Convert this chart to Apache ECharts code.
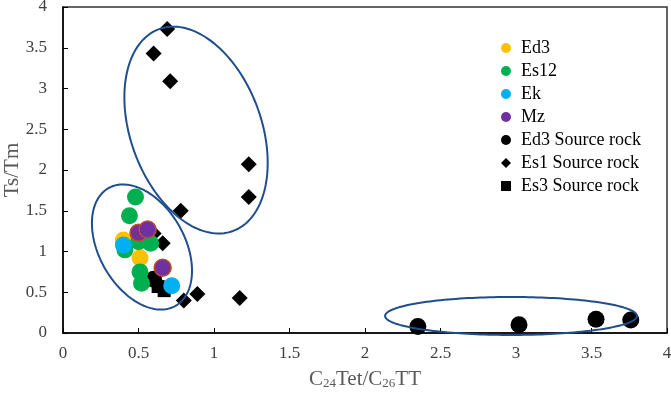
<!DOCTYPE html>
<html>
<head>
<meta charset="utf-8">
<script src="https://cdn.jsdelivr.net/npm/echarts@6/dist/echarts.min.js"></script>
<style>html,body{margin:0;padding:0;background:#fff}#c{width:671px;height:395px}</style>
</head>
<body>
<div id="c"></div>
<script>
// ---- data (x = C24Tet/C26TT, y = Ts/Tm) ----
const xTicks = ['0','0.5','1','1.5','2','2.5','3','3.5','4'];
const yTicks = ['0','0.5','1','1.5','2','2.5','3','3.5','4'];
const seriesNames = ['Ed3','Es12','Ek','Mz','Ed3 Source rock','Es1 Source rock','Es3 Source rock'];
const ed3 = [[0.40,1.14],[0.51,0.92]];
const es12 = [[0.48,1.67],[0.44,1.44],[0.41,1.02],[0.50,1.12],[0.58,1.10],[0.51,0.75],[0.52,0.61]];
const ek = [[0.40,1.08],[0.72,0.58]];
const mz = [[0.50,1.23],[0.56,1.27],[0.66,0.80]];
const ed3Source = [[2.35,0.08],[3.02,0.10],[3.53,0.17],[3.76,0.16],[0.60,0.66]];
const es1Source = [[0.69,3.73],[0.60,3.43],[0.71,3.09],[1.23,2.07],[1.23,1.67],[0.78,1.50],[0.66,1.10],[0.60,1.22],[0.80,0.40],[0.89,0.48],[1.17,0.43]];
const es3Source = [[0.63,0.57],[0.67,0.52]];
// ellipses: centre x, centre y, semi-diameter u (dx,dy), semi-diameter v (dx,dy) in data units
const ellipses = [
  [0.881, 2.49, 0.244, -1.239, -0.407, -0.274],
  [0.523, 1.055, 0.222, -0.722, -0.246, -0.260],
  [2.967, 0.209, 0.834, 0, 0, 0.233]
];

const chart = echarts.init(document.getElementById('c'));
const serif = '"Liberation Serif","Times New Roman",serif';
const colors = ['#FFC000','#00B050','#00B0F0','#7030A0','#000000','#000000','#000000'];

function scatter(name, data, symbol, size, z, extra) {
  return Object.assign({
    name, type:'scatter', data, symbol, symbolSize:size, z,
    itemStyle:{color:colors[seriesNames.indexOf(name)], opacity:1},
    emphasis:{disabled:true}
  }, extra||{});
}

chart.setOption({
  animation:false,
  grid:{left:63,right:4,top:7,bottom:62,containLabel:false,outerBoundsMode:'none',show:true,borderColor:'#333',borderWidth:1.5},
  xAxis:{type:'value',min:0,max:4,interval:0.5,
    axisLine:{lineStyle:{color:'#000',width:1.5}},
    axisTick:{inside:true,length:5,lineStyle:{color:'#000'}},
    splitLine:{show:false},
    axisLabel:{fontFamily:serif,fontSize:17,color:'#404040',margin:12,
      formatter:v=>xTicks[Math.round(v*2)]},
    name:'{n|C}{s|24}{n|Tet/C}{s|26}{n|TT}',nameLocation:'middle',nameGap:36,nameMoveOverlap:false,
    nameTextStyle:{rich:{
      n:{fontFamily:serif,fontSize:21,color:'#595959'},
      s:{fontFamily:serif,fontSize:13,color:'#595959',verticalAlign:'bottom',padding:[8,0,0,0]}
    }}
  },
  yAxis:{type:'value',min:0,max:4,interval:0.5,
    axisLine:{lineStyle:{color:'#000',width:1.5}},
    axisTick:{inside:true,length:5,lineStyle:{color:'#000'}},
    splitLine:{show:false},
    axisLabel:{fontFamily:serif,fontSize:17,color:'#404040',margin:16,
      formatter:v=>yTicks[Math.round(v*2)]},
    name:'Ts/Tm',nameLocation:'middle',nameGap:40,nameMoveOverlap:false,
    nameTextStyle:{fontFamily:serif,fontSize:21,color:'#595959'}
  },
  legend:{orient:'vertical',left:496,top:34,itemWidth:10,itemHeight:10,itemGap:5,
    textStyle:{fontFamily:serif,fontSize:18,color:'#000',lineHeight:18,padding:[0,0,0,5]},
    data:seriesNames.map(n=>({name:n,itemStyle:{borderWidth:0}}))
  },
  series:[
    {type:'custom',name:'ellipses',z:5,silent:true,data:ellipses,
     encode:{x:0,y:1},
     renderItem:function(params,api){
       const cx=api.value(0),cy=api.value(1),ux=api.value(2),uy=api.value(3),vx=api.value(4),vy=api.value(5);
       const pts=[];
       for(let i=0;i<=180;i++){
         const t=i/180*Math.PI*2;
         pts.push(api.coord([cx+ux*Math.cos(t)+vx*Math.sin(t), cy+uy*Math.cos(t)+vy*Math.sin(t)]));
       }
       return {type:'polyline',shape:{points:pts},style:{stroke:'#1F4E8C',lineWidth:2,fill:null}};
     }
    },
    scatter('Ed3 Source rock', ed3Source, 'circle', 17, 2),
    scatter('Es1 Source rock', es1Source, 'diamond', 16, 2),
    scatter('Es3 Source rock', es3Source, 'rect', 13, 2),
    scatter('Ed3', ed3, 'circle', 17, 3),
    scatter('Es12', es12, 'circle', 17, 3.1),
    scatter('Ek', ek, 'circle', 17, 3.2),
    scatter('Mz', mz, 'circle', 17, 3.3, {itemStyle:{color:'#7030A0',borderColor:'#C0501F',borderWidth:1.5,opacity:1}})
  ]
});
</script>
</body>
</html>
